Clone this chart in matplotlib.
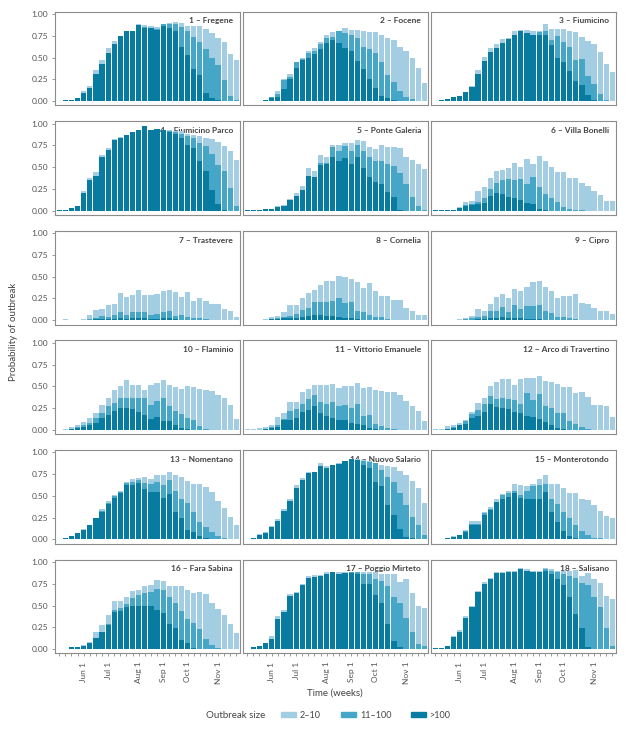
import matplotlib
matplotlib.use("Agg")
import matplotlib.pyplot as plt
from matplotlib.patches import Patch

plt.rcParams['font.family'] = ['Lato', 'DejaVu Sans']

# weekly bins, week 0 = first week of May
weeks = list(range(30))
month_weeks = [4, 8, 13, 17, 21, 26]
month_labels = ['Jun 1', 'Jul 1', 'Aug 1', 'Sep 1', 'Oct 1', 'Nov 1']

names = ['1 – Fregene', '2 – Focene', '3 – Fiumicino', '4 – Fiumicino Parco',
         '5 – Ponte Galeria', '6 – Villa Bonelli', '7 – Trastevere', '8 – Cornelia',
         '9 – Cipro', '10 – Flaminio', '11 – Vittorio Emanuele',
         '12 – Arco di Travertino', '13 – Nomentano', '14 – Nuovo Salario',
         '15 – Monterotondo', '16 – Fara Sabina', '17 – Poggio Mirteto', '18 – Salisano']

# probability of an outbreak of size >= 2 (2-10), >= 11 (11-100), > 100
p1_small = [.005,.01,.015,.03,.11,.17,.36,.47,.61,.69,.75,.81,.81,.88,.87,.86,.85,.89,.90,.91,.90,.86,.86,.86,.83,.78,.72,.68,.54,.47]
p1_mid   = [.005,.01,.01,.03,.09,.15,.31,.42,.55,.65,.75,.80,.80,.87,.85,.84,.83,.88,.89,.88,.85,.80,.74,.68,.60,.50,.41,.24,.06,.01]
p1_large = [.005,.01,.01,.03,.09,.15,.31,.42,.55,.65,.75,.80,.80,.87,.84,.84,.82,.86,.84,.80,.62,.53,.37,.30,.09,.03,.01,0,0,0]

p2_small = [.005,.005,.005,.01,.05,.11,.25,.31,.45,.50,.58,.61,.68,.76,.79,.80,.84,.82,.82,.80,.79,.79,.76,.72,.70,.62,.58,.50,.38,.21]
p2_mid   = [.005,.005,.005,.01,.04,.08,.24,.28,.45,.48,.55,.58,.65,.72,.74,.80,.78,.76,.72,.62,.60,.55,.45,.30,.22,.12,.05,.02,.005,0]
p2_large = [.005,.005,.005,.01,.03,.05,.14,.25,.38,.47,.50,.54,.60,.67,.70,.67,.61,.57,.46,.37,.25,.15,.06,.03,.01,0,0,0,0,0]

p3_small = [.005,.01,.02,.04,.06,.10,.17,.36,.51,.61,.66,.71,.73,.80,.82,.82,.81,.81,.88,.83,.83,.83,.80,.79,.74,.69,.66,.56,.43,.33]
p3_mid   = [.005,.01,.02,.04,.06,.10,.16,.31,.46,.56,.61,.67,.71,.76,.80,.78,.76,.79,.80,.70,.75,.68,.62,.47,.48,.29,.20,.08,.01,0]
p3_large = [.005,.01,.02,.04,.06,.10,.16,.31,.46,.56,.61,.67,.71,.76,.80,.78,.76,.76,.76,.64,.49,.45,.35,.23,.18,.07,.01,0,0,0]

p4_small = [.005,.01,.03,.05,.22,.38,.44,.64,.72,.82,.85,.87,.90,.93,.97,.93,.94,.93,.93,.92,.91,.88,.87,.86,.84,.82,.79,.74,.69,.58]
p4_mid   = [.005,.01,.03,.05,.20,.35,.40,.62,.70,.81,.84,.87,.90,.93,.97,.93,.94,.93,.91,.90,.88,.86,.83,.78,.74,.65,.52,.45,.26,.05]
p4_large = [.005,.01,.03,.05,.20,.35,.40,.62,.70,.81,.84,.87,.90,.93,.97,.93,.94,.93,.90,.88,.84,.76,.72,.57,.45,.24,.08,.01,0,0]

p5_small = [.005,.005,.005,.02,.02,.05,.06,.13,.20,.28,.49,.46,.64,.62,.76,.75,.78,.78,.81,.80,.73,.71,.75,.73,.73,.72,.62,.58,.54,.48]
p5_mid   = [.005,.005,.005,.02,.02,.04,.05,.12,.17,.24,.40,.39,.55,.55,.73,.68,.74,.68,.75,.68,.62,.57,.57,.54,.51,.43,.30,.16,.05,.01]
p5_large = [.005,.005,.005,.02,.02,.04,.05,.12,.17,.24,.40,.39,.52,.53,.62,.57,.60,.53,.62,.49,.39,.33,.30,.21,.16,.01,0,0,0,0]

p6_small = [.005,.005,.005,.01,.04,.10,.11,.22,.27,.37,.45,.47,.49,.55,.50,.59,.53,.63,.57,.50,.44,.44,.38,.38,.32,.28,.22,.18,.11,.11]
p6_mid   = [.005,.005,.005,.01,.03,.06,.07,.10,.14,.25,.32,.35,.36,.35,.36,.30,.39,.27,.19,.15,.10,.04,.02,.01,.005,0,0,0,0,0]
p6_large = [.005,.005,.005,.01,.03,.05,.06,.08,.09,.17,.20,.19,.16,.15,.12,.09,.07,.02,.01,0,0,0,0,0,0,0,0,0,0,0]

p7_small = [.005,.01,.005,.005,.01,.06,.12,.13,.17,.19,.31,.27,.29,.35,.29,.29,.30,.33,.35,.32,.27,.32,.22,.25,.22,.19,.19,.13,.11,.04]
p7_mid   = [0,0,0,0,0,.01,.03,.05,.04,.06,.09,.06,.09,.09,.09,.06,.07,.09,.11,.05,.06,.04,.02,.02,.01,0,0,0,0,0]
p7_large = [0,0,0,0,0,0,.01,.01,.01,.01,.02,.01,.02,.02,.02,.01,.01,.02,.02,.01,.005,0,0,0,0,0,0,0,0,0]

p8_small = [.005,.005,.005,.01,.04,.05,.09,.17,.17,.26,.31,.35,.40,.45,.45,.51,.50,.47,.44,.37,.43,.33,.28,.28,.23,.23,.14,.10,.06,.06]
p8_mid   = [0,0,0,0,.01,.02,.04,.05,.07,.12,.14,.21,.21,.21,.22,.26,.20,.21,.11,.09,.06,.04,.04,.01,0,0,0,0,0,0]
p8_large = [0,0,0,0,.01,.01,.02,.02,.03,.04,.05,.06,.06,.05,.05,.04,.03,.02,.01,0,0,0,0,0,0,0,0,0,0,0]

p9_small = [0,0,0,.005,.01,.03,.05,.13,.11,.19,.27,.30,.25,.36,.33,.38,.44,.45,.38,.34,.25,.28,.28,.30,.20,.19,.14,.10,.10,.07]
p9_mid   = [0,0,0,0,0,.01,.02,.04,.05,.10,.10,.15,.09,.18,.13,.16,.16,.18,.10,.08,.04,.04,.02,.01,0,0,0,0,0,0]
p9_large = [0,0,0,0,0,0,0,.01,.01,.02,.03,.04,.02,.03,.02,.01,.01,.01,0,0,0,0,0,0,0,0,0,0,0,0]

p10_small = [0,.01,.03,.05,.09,.13,.19,.28,.36,.46,.50,.57,.51,.52,.46,.51,.54,.57,.51,.49,.47,.50,.49,.47,.46,.45,.40,.36,.28,.12]
p10_mid   = [0,0,.01,.03,.05,.08,.14,.19,.27,.31,.36,.37,.37,.37,.36,.28,.33,.36,.27,.22,.18,.14,.11,.04,.01,0,0,0,0,0]
p10_large = [0,0,.01,.02,.03,.05,.08,.13,.17,.22,.25,.25,.24,.20,.17,.12,.15,.10,.10,.05,.02,.01,0,0,0,0,0,0,0,0]

p11_small = [.01,.01,.02,.03,.06,.15,.19,.32,.32,.43,.47,.52,.51,.51,.53,.48,.50,.50,.54,.48,.49,.46,.45,.43,.44,.40,.33,.27,.22,.10]
p11_mid   = [0,0,0,.01,.03,.06,.12,.22,.24,.30,.35,.40,.32,.30,.32,.27,.29,.25,.30,.16,.17,.07,.04,.02,.01,0,0,0,0,0]
p11_large = [0,0,0,.01,.02,.03,.11,.11,.14,.21,.23,.27,.19,.16,.14,.11,.11,.08,.07,.05,.02,.01,0,0,0,0,0,0,0,0]

p12_small = [.005,.01,.04,.05,.08,.11,.20,.31,.37,.50,.55,.58,.58,.51,.58,.59,.59,.62,.56,.55,.53,.49,.49,.42,.44,.38,.29,.28,.27,.15]
p12_mid   = [0,0,.01,.03,.06,.10,.18,.23,.30,.39,.35,.37,.35,.34,.30,.42,.34,.41,.27,.25,.19,.19,.10,.07,.03,.01,0,0,0,0]
p12_large = [0,0,.01,.02,.05,.07,.13,.16,.20,.30,.26,.25,.24,.20,.19,.16,.15,.12,.09,.05,.02,.01,0,0,0,0,0,0,0,0]

p13_small = [.005,.02,.04,.07,.12,.17,.25,.35,.44,.51,.56,.66,.70,.71,.72,.70,.74,.74,.78,.74,.72,.67,.64,.64,.60,.55,.44,.36,.26,.16]
p13_mid   = [.005,.02,.04,.07,.11,.17,.24,.33,.42,.50,.55,.65,.66,.68,.65,.64,.66,.63,.68,.56,.46,.42,.31,.20,.14,.08,.04,.01,0,0]
p13_large = [.005,.02,.04,.07,.11,.17,.24,.32,.41,.48,.53,.63,.63,.65,.58,.55,.55,.48,.52,.32,.24,.11,.08,.04,.01,0,0,0,0,0]

p14_small = [.005,.02,.06,.08,.15,.23,.35,.46,.62,.71,.77,.78,.88,.84,.85,.88,.90,.92,.92,.91,.90,.88,.85,.84,.83,.79,.74,.67,.59,.42]
p14_mid   = [.005,.02,.05,.07,.14,.21,.33,.44,.59,.68,.76,.78,.84,.82,.85,.87,.90,.92,.91,.90,.89,.88,.80,.72,.66,.53,.40,.26,.17,.05]
p14_large = [.005,.02,.05,.07,.14,.21,.33,.44,.59,.68,.76,.78,.84,.82,.85,.87,.90,.92,.91,.86,.82,.66,.61,.40,.28,.12,.03,.01,0,0]

p15_small = [.005,.005,.01,.04,.05,.11,.21,.21,.32,.37,.47,.52,.56,.64,.63,.61,.64,.69,.74,.64,.64,.59,.53,.53,.46,.45,.39,.33,.27,.24]
p15_mid   = [0,0,.01,.03,.05,.10,.18,.18,.30,.35,.43,.51,.53,.56,.51,.56,.61,.63,.64,.47,.41,.32,.24,.16,.10,.05,.02,.01,0,0]
p15_large = [0,0,.01,.03,.05,.09,.17,.17,.28,.34,.43,.47,.49,.53,.48,.46,.46,.46,.54,.31,.20,.10,.04,.01,0,0,0,0,0,0]

p16_small = [.005,.005,.02,.02,.04,.08,.20,.27,.39,.55,.55,.60,.67,.68,.72,.74,.79,.78,.73,.73,.72,.68,.64,.66,.63,.53,.46,.39,.29,.18]
p16_mid   = [.005,.005,.02,.02,.03,.07,.13,.20,.29,.45,.47,.52,.59,.62,.64,.65,.69,.68,.60,.53,.44,.34,.30,.23,.12,.04,.01,0,0,0]
p16_large = [.005,.005,.02,.02,.03,.07,.13,.20,.28,.43,.44,.48,.50,.50,.50,.49,.45,.41,.29,.24,.10,.07,.01,0,0,0,0,0,0,0]

p17_small = [.005,.02,.03,.07,.15,.38,.45,.63,.66,.75,.84,.85,.85,.88,.89,.88,.89,.89,.89,.89,.88,.88,.86,.86,.86,.77,.80,.64,.50,.47]
p17_mid   = [.005,.02,.03,.07,.12,.35,.43,.61,.64,.74,.82,.83,.84,.86,.88,.86,.87,.89,.88,.86,.86,.80,.78,.72,.60,.53,.36,.20,.06,.03]
p17_large = [.005,.02,.03,.07,.12,.35,.43,.61,.64,.74,.82,.83,.84,.86,.88,.86,.87,.87,.86,.75,.75,.62,.53,.29,.09,.02,.005,0,0,0]

p18_small = [.01,.01,.03,.15,.22,.38,.50,.67,.77,.82,.88,.88,.90,.90,.93,.92,.90,.90,.93,.92,.90,.90,.90,.91,.84,.87,.80,.76,.61,.57]
p18_mid   = [.01,.01,.03,.14,.20,.36,.48,.65,.75,.81,.87,.87,.89,.89,.92,.90,.88,.88,.92,.90,.88,.86,.84,.82,.76,.74,.60,.48,.24,.03]
p18_large = [.01,.01,.03,.14,.20,.36,.48,.65,.75,.81,.87,.87,.89,.89,.92,.90,.88,.88,.90,.86,.80,.74,.60,.40,.24,.02,0,0,0,0]

small = [p1_small, p2_small, p3_small, p4_small, p5_small, p6_small, p7_small, p8_small, p9_small,
         p10_small, p11_small, p12_small, p13_small, p14_small, p15_small, p16_small, p17_small, p18_small]
mid = [p1_mid, p2_mid, p3_mid, p4_mid, p5_mid, p6_mid, p7_mid, p8_mid, p9_mid,
       p10_mid, p11_mid, p12_mid, p13_mid, p14_mid, p15_mid, p16_mid, p17_mid, p18_mid]
large = [p1_large, p2_large, p3_large, p4_large, p5_large, p6_large, p7_large, p8_large, p9_large,
         p10_large, p11_large, p12_large, p13_large, p14_large, p15_large, p16_large, p17_large, p18_large]

C_LIGHT = '#a3cde2'
C_MID = '#46a6c7'
C_DARK = '#087ba1'

W, H = 628, 730
fig = plt.figure(figsize=(W / 100, H / 100), dpi=100)

col_left = [55, 243, 431]
panel_w = 184.5
panel_h = 93.6
row_top = [11.7 + 109.6 * r for r in range(6)]

for k in range(18):
    r, c = divmod(k, 3)
    ax = fig.add_axes([col_left[c] / W, 1 - (row_top[r] + panel_h) / H, panel_w / W, panel_h / H])
    ax.bar(weeks, small[k], width=0.86, color=C_LIGHT, zorder=2)
    ax.bar(weeks, mid[k], width=0.86, color=C_MID, zorder=3)
    ax.bar(weeks, large[k], width=0.86, color=C_DARK, zorder=4)
    ax.text(0.965, 0.94, names[k], transform=ax.transAxes, ha='right', va='top',
            fontsize=6, fontweight='bold', color='#444444', zorder=1)
    ax.set_xlim(-0.7, 29.5)
    ax.set_ylim(-0.05, 1.027)
    for s in ax.spines.values():
        s.set_color('#8c8c8c')
        s.set_linewidth(0.8)

    if c == 0:
        ax.set_yticks([0, 0.25, 0.5, 0.75, 1.0])
        ax.set_yticklabels(['0.00', '0.25', '0.50', '0.75', '1.00'])
        ax.tick_params(axis='y', length=2, width=0.6, color='#888888', labelsize=6,
                       labelcolor='#555555', pad=3)
    else:
        ax.set_yticks([])

    if r == 5:
        ax.set_xticks(weeks)
        ax.set_xticklabels([month_labels[month_weeks.index(w)] if w in month_weeks else ''
                            for w in weeks], rotation=90)
        ax.tick_params(axis='x', length=2, width=0.6, color='#888888', labelsize=6,
                       labelcolor='#555555', pad=4)
    else:
        ax.set_xticks([])

fig.text(14 / W, 1 - 332 / H, 'Probability of outbreak', rotation=90, ha='center', va='center',
         fontsize=7, color='#444444')
fig.text(335 / W, 1 - 693 / H, 'Time (weeks)', ha='center', va='center', fontsize=7, color='#444444')
fig.text(206 / W, 1 - 715 / H, 'Outbreak size', ha='left', va='center', fontsize=7, color='#444444')

handles = [Patch(color=C_LIGHT), Patch(color=C_MID), Patch(color=C_DARK)]
leg = fig.legend(handles, ['2–10', '11–100', '>100'], loc='center left',
                 bbox_to_anchor=(281 / W, 1 - 715 / H), ncol=3, frameon=False, fontsize=6.5,
                 handlelength=1.7, handleheight=0.55, handletextpad=0.4, columnspacing=2.2,
                 borderaxespad=0, borderpad=0)
for t in leg.get_texts():
    t.set_color('#444444')

fig.savefig('out.png', dpi=100)
